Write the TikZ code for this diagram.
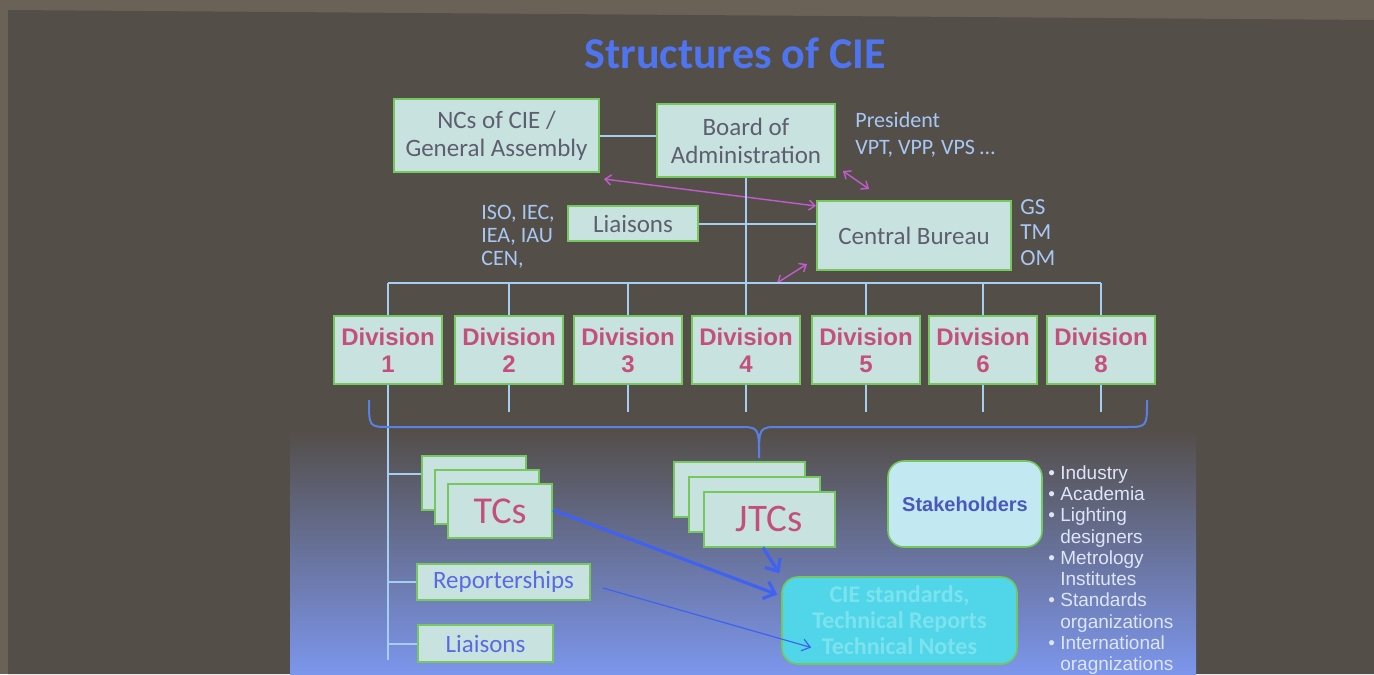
\documentclass[tikz,border=0pt]{standalone}
\usepackage{fontspec}
\setmainfont{Carlito}
\newfontfamily\arialf{Liberation Sans}
\usetikzlibrary{arrows.meta}
\definecolor{framec}{HTML}{6B6257}
\definecolor{bg}{HTML}{544E49}
\definecolor{gradmid}{HTML}{5E5E92}
\definecolor{gradbot}{HTML}{7C96EC}
\definecolor{titleblue}{HTML}{4F74F0}
\definecolor{boxfill}{HTML}{C8E3DF}
\definecolor{boxgreen}{HTML}{74C85C}
\definecolor{boxtext}{HTML}{5E5E6E}
\definecolor{connc}{HTML}{A6CEF0}
\definecolor{pinkarr}{HTML}{C25CCC}
\definecolor{divred}{HTML}{C4507A}
\definecolor{lbl}{HTML}{A8C8F4}
\definecolor{repblue}{HTML}{5C68E4}
\definecolor{braceblue}{HTML}{5A80E8}
\definecolor{arrblue}{HTML}{3F62F2}
\definecolor{stakefill}{HTML}{C2E8F2}
\definecolor{staketext}{HTML}{4A58BC}
\definecolor{ciefill}{HTML}{50D6E8}
\definecolor{cietext}{HTML}{7CE2EE}
\definecolor{bullettext}{HTML}{DDE6F8}
\tikzset{
  box/.style={draw=boxgreen, line width=1pt, fill=boxfill, inner sep=0pt, align=center, text=boxtext, font=\fontsize{12.5}{14}\selectfont},
  divbox/.style={box, minimum width=54pt, minimum height=34pt, text=divred, font=\arialf\bfseries\fontsize{12}{13.5}\selectfont},
  tcbox/.style={box, minimum width=52pt, minimum height=27pt, text=divred, font=\fontsize{19}{20}\selectfont},
  jtbox/.style={box, minimum width=65.5pt, minimum height=27.5pt, text=divred, font=\fontsize{19.5}{20}\selectfont},
  connline/.style={draw=connc, line width=1pt},
  pinkdbl/.style={draw=pinkarr, line width=0.7pt, {Straight Barb[length=3pt,width=5pt]}-{Straight Barb[length=3pt,width=5pt]}},
  lbltext/.style={text=lbl, font=\fontsize{11}{13.5}\selectfont, align=left, inner sep=0pt, anchor=north west},
  bluearrow/.style={draw=arrblue, line width=1.6pt, -{Straight Barb[length=5pt,width=9pt]}},
  thinarrow/.style={draw=arrblue, line width=0.6pt, -{Straight Barb[length=4pt,width=6pt]}},
}
\begin{document}
\begin{tikzpicture}[x=0.5pt,y=-0.5pt]
\useasboundingbox (0,0) rectangle (1374,674);
% background / screen
\fill[framec] (0,0) rectangle (1374,674);
\fill[bg] (8,10) -- (1374,20) -- (1374,674) -- (8,674) -- cycle;
\shade[top color=bg, middle color=gradmid, bottom color=gradbot] (290,430) rectangle (1196,674);

% title
\node[text=titleblue, font=\bfseries\fontsize{22}{24}\selectfont] (title) at (735,53) {Structures of CIE};

% top boxes
\node[box, minimum width=102.5pt, minimum height=36.5pt] (nc) at (496.5,135.5) {NCs of CIE /\\General Assembly};
\node[box, minimum width=89pt, minimum height=36.5pt] (board) at (746,140.5) {Board of\\Administration};
\node[box, minimum width=97pt, minimum height=34.5pt] (cb) at (914,235.5) {Central Bureau};
\node[box, minimum width=65pt, minimum height=17.5pt] (liat) at (633,223.5) {Liaisons};

\draw[connline] (nc.east) -- (nc.east -| board.west);
\draw[connline] (liat.east) -- (liat.east -| cb.west);

% labels
\node[lbltext] (pres) at (855,112) {President\\VPT, VPP, VPS …};
\node[lbltext, font=\fontsize{11.5}{12.75}\selectfont] (gs) at (1020,199) {GS\\TM\\OM};
\node[lbltext, font=\fontsize{11}{11.5}\selectfont] (iso) at (481,205) {ISO, IEC,\\IEA, IAU\\CEN,};

% pink double arrows
\draw[pinkdbl] ([shift={(2pt,-3pt)}]nc.south east) -- ([yshift=-3pt]cb.north west);
\draw[pinkdbl] ([shift={(3.5pt,3.5pt)}]board.south east) -- ([shift={(26.5pt,5.5pt)}]cb.north west);
\draw[pinkdbl] ([shift={(-19.5pt,-6pt)}]cb.south west) -- ([shift={(-4.5pt,3.5pt)}]cb.south west);

% divisions
\foreach \n/\xx in {1/388,2/509,3/628,4/746,5/866,6/983,8/1101}{
  \node[divbox] (div\n) at (\xx,350) {Division\\\n};
}
\coordinate (busL) at (388,283);
\coordinate (busR) at (1101,283);
\draw[connline] (busL) -- (busR);
\foreach \n in {1,2,3,5,6,8} \draw[connline] (div\n.north |- busL) -- (div\n.north);
\draw[connline] (board.south) -- (div4.north);
\foreach \n in {2,3,4,5,6,8} \draw[connline] (div\n.south) -- ++(0,27);
\coordinate (trunk) at (388,660);
\draw[connline] (div1.south) -- (trunk);

% brace
\coordinate (braceTip) at (759,458);
\draw[draw=braceblue, line width=1pt] (369,400) .. controls (369,427) .. (390,427) -- (738,427) .. controls (759,427) .. (braceTip) .. controls (759,427) .. (780,427) -- (1126,427) .. controls (1147,427) .. (1147,400);

% TCs stack
\node[tcbox] (tc3) at (474,483) {};
\node[tcbox] (tc2) at (487,497) {};
\node[tcbox] (tc1) at (500,511) {TCs};
\draw[connline] ([yshift=4.5pt]tc3.west -| trunk) -- ([yshift=4.5pt]tc3.west);

% JTCs stack
\node[jtbox] (jt3) at (739.5,489.5) {};
\node[jtbox] (jt2) at (754,504) {};
\node[jtbox] (jt1) at (769,519) {JTCs};

% reporterships / liaisons
\node[box, minimum width=86.5pt, minimum height=18pt, text=repblue] (rep) at (503.5,582) {Reporterships};
\node[box, minimum width=67.5pt, minimum height=18.5pt, text=repblue] (liab) at (485.5,643.5) {Liaisons};
\draw[connline] (rep.west -| trunk) -- (rep.west);
\draw[connline] (liab.west -| trunk) -- (liab.west);

% stakeholders
\node[draw=boxgreen, line width=0.8pt, fill=stakefill, rounded corners=8pt, minimum width=77pt, minimum height=43pt, text=staketext, font=\arialf\bfseries\fontsize{10}{11}\selectfont] (stake) at (965,504) {Stakeholders};
\node[text=bullettext, font=\arialf\fontsize{9.5}{10.65}\selectfont, align=left, inner sep=0pt, anchor=north west] (list) at (1048,465)
 {• Industry\\• Academia\\• Lighting\\\phantom{• }designers\\• Metrology\\\phantom{• }Institutes\\• Standards\\\phantom{• }organizations\\• International\\\phantom{• }oragnizations};

% CIE standards
\node[draw=boxgreen, line width=0.8pt, fill=ciefill, rounded corners=8pt, minimum width=117.5pt, minimum height=43.5pt, text=cietext, align=center, font=\bfseries\fontsize{12}{13}\selectfont] (cie) at (899.5,620.5) {CIE standards,\\Technical Reports\\Technical Notes};

% arrows
\draw[bluearrow] ([yshift=0.5pt]tc1.east) -- ([shift={(-2pt,13pt)}]cie.west);
\draw[bluearrow] ([xshift=-3pt]jt1.south) -- ([shift={(-1pt,1.5pt)}]cie.north west);
\draw[thinarrow] ([shift={(6pt,-3pt)}]rep.east) -- ([shift={(15pt,-13.5pt)}]cie.west);
\end{tikzpicture}
\end{document}
